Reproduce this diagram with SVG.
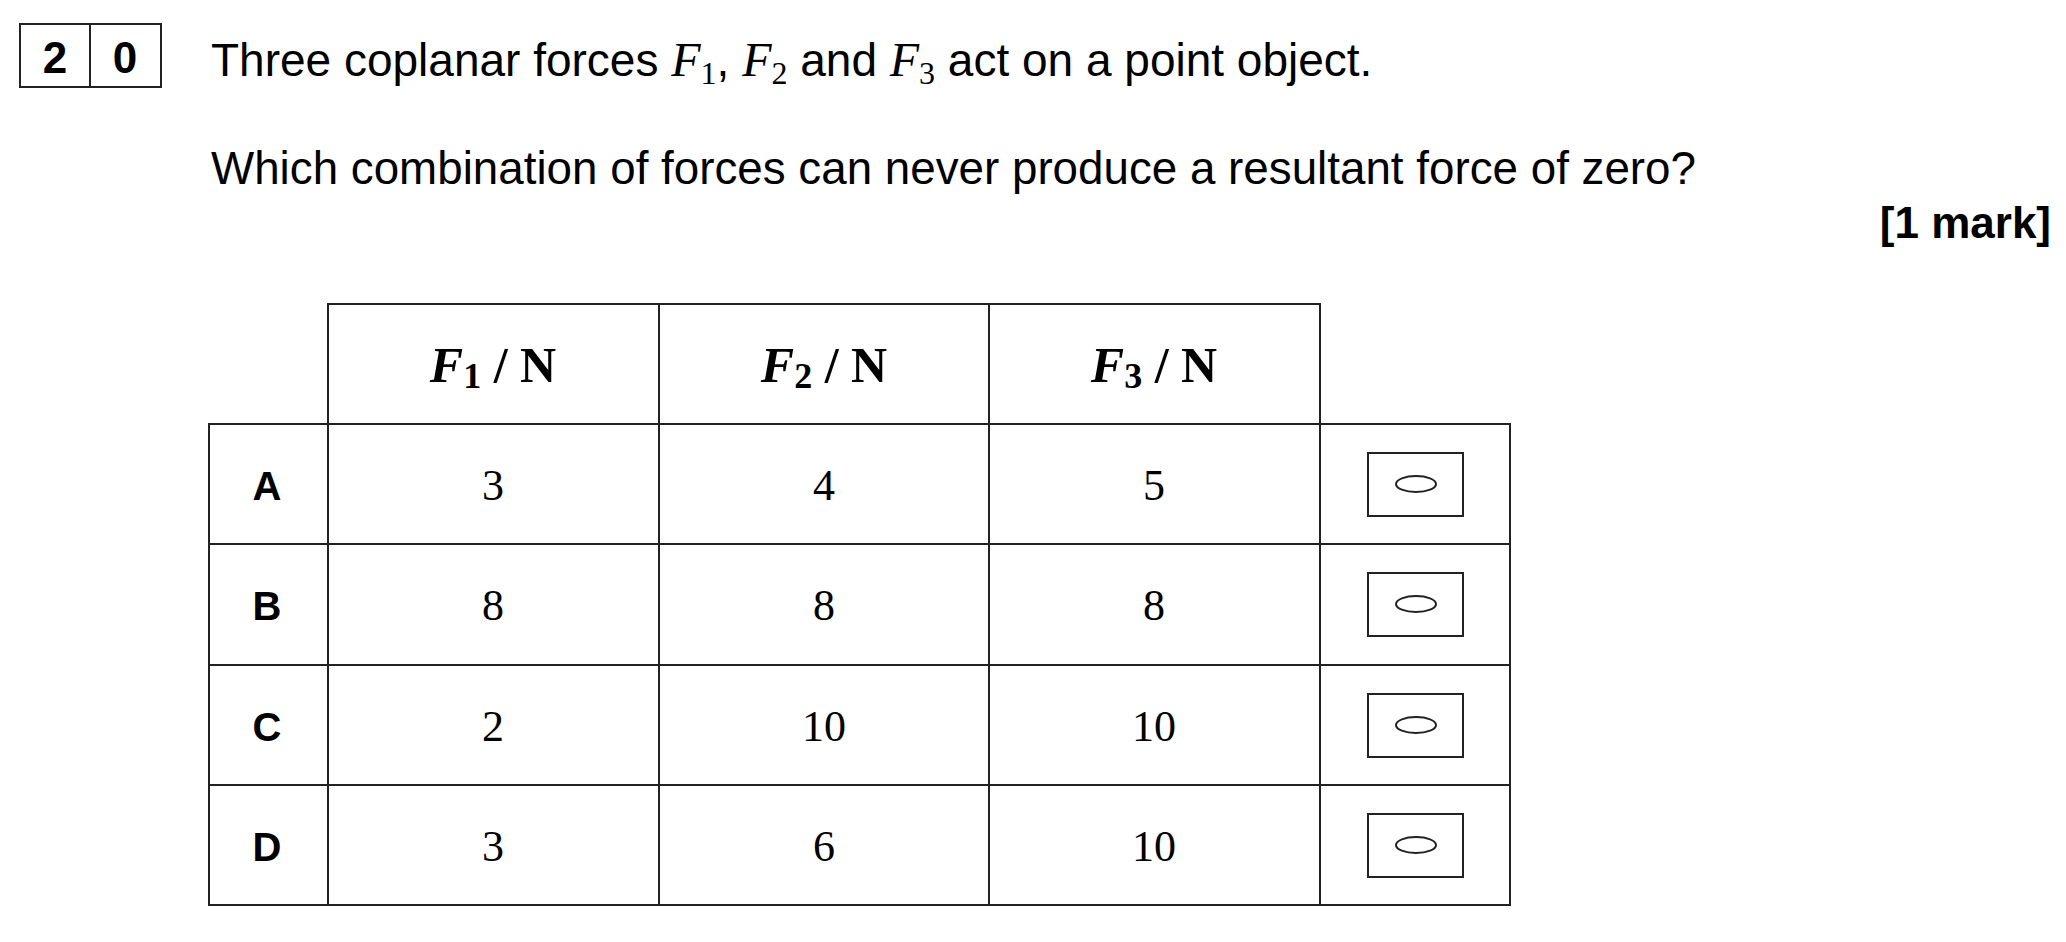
<svg xmlns="http://www.w3.org/2000/svg" width="2066" height="942" viewBox="0 0 2066 942">
<style>
.l{stroke:#222;stroke-width:2;fill:none}
.s{font-family:"Liberation Sans",Arial,sans-serif;fill:#000}
.m{font-family:"Liberation Serif","Times New Roman",serif;fill:#000}
.v{font-family:"Liberation Serif","Times New Roman",serif;font-size:44px;text-anchor:middle}
.h{font-family:"Liberation Serif","Times New Roman",serif;font-size:50px;font-weight:bold;text-anchor:middle}
.r{font-family:"Liberation Sans",Arial,sans-serif;font-size:40px;font-weight:bold;text-anchor:middle}
</style>
<rect width="2066" height="942" fill="#fff"/>
<g id="qnum">
<rect class="l" x="20" y="24" width="141" height="63"/>
<line class="l" x1="90" y1="24" x2="90" y2="87"/>
<text class="s" x="55" y="73" font-size="44" font-weight="bold" text-anchor="middle">2</text>
<text class="s" x="125" y="73" font-size="44" font-weight="bold" text-anchor="middle">0</text>
</g>
<g id="question" font-size="46">
<text class="s" x="211" y="76">Three coplanar forces <tspan class="m" font-style="italic" font-size="48">F</tspan><tspan class="m" font-size="32" dy="8">1</tspan><tspan dy="-8">, </tspan><tspan class="m" font-style="italic" font-size="48">F</tspan><tspan class="m" font-size="32" dy="8">2</tspan><tspan dy="-8"> and </tspan><tspan class="m" font-style="italic" font-size="48">F</tspan><tspan class="m" font-size="32" dy="8">3</tspan><tspan dy="-8"> act on a point object.</tspan></text>
<text class="s" x="211" y="184" textLength="1485" lengthAdjust="spacingAndGlyphs">Which combination of forces can never produce a resultant force of zero?</text>
<text class="s" x="2051" y="238" font-size="44" font-weight="bold" text-anchor="end">[1 mark]</text>
</g>
<g id="table">
<rect class="l" x="328" y="304" width="992" height="120"/>
<line class="l" x1="659" y1="304" x2="659" y2="905"/>
<line class="l" x1="989" y1="304" x2="989" y2="905"/>
<rect class="l" x="209" y="424" width="1301" height="481"/>
<line class="l" x1="328" y1="424" x2="328" y2="905"/>
<line class="l" x1="1320" y1="424" x2="1320" y2="905"/>
<line class="l" x1="209" y1="544" x2="1510" y2="544"/>
<line class="l" x1="209" y1="665" x2="1510" y2="665"/>
<line class="l" x1="209" y1="785" x2="1510" y2="785"/>
<text class="h" x="493" y="382"><tspan font-style="italic">F</tspan><tspan font-size="36" dy="6">1</tspan><tspan dy="-6"> / N</tspan></text>
<text class="h" x="824" y="382"><tspan font-style="italic">F</tspan><tspan font-size="36" dy="6">2</tspan><tspan dy="-6"> / N</tspan></text>
<text class="h" x="1154" y="382"><tspan font-style="italic">F</tspan><tspan font-size="36" dy="6">3</tspan><tspan dy="-6"> / N</tspan></text>
</g>
<g id="rowA"><text class="r" x="267" y="500">A</text><text class="v" x="493" y="500">3</text><text class="v" x="824" y="500">4</text><text class="v" x="1154" y="500">5</text><rect class="l" x="1368" y="453" width="95" height="63"/><ellipse class="l" cx="1416" cy="484" rx="20" ry="8"/></g>
<g id="rowB"><text class="r" x="267" y="620">B</text><text class="v" x="493" y="620">8</text><text class="v" x="824" y="620">8</text><text class="v" x="1154" y="620">8</text><rect class="l" x="1368" y="573" width="95" height="63"/><ellipse class="l" cx="1416" cy="604" rx="20" ry="8"/></g>
<g id="rowC"><text class="r" x="267" y="741">C</text><text class="v" x="493" y="741">2</text><text class="v" x="824" y="741">10</text><text class="v" x="1154" y="741">10</text><rect class="l" x="1368" y="694" width="95" height="63"/><ellipse class="l" cx="1416" cy="725" rx="20" ry="8"/></g>
<g id="rowD"><text class="r" x="267" y="861">D</text><text class="v" x="493" y="861">3</text><text class="v" x="824" y="861">6</text><text class="v" x="1154" y="861">10</text><rect class="l" x="1368" y="814" width="95" height="63"/><ellipse class="l" cx="1416" cy="845" rx="20" ry="8"/></g>
</svg>
